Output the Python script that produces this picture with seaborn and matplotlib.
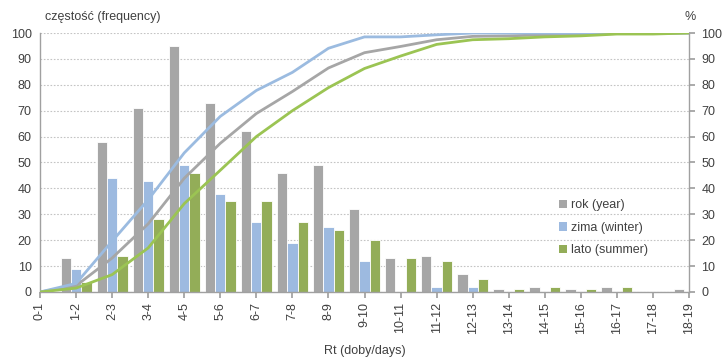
import numpy as np
import pandas as pd
import matplotlib
matplotlib.use("Agg")
import matplotlib.pyplot as plt
import seaborn as sns
from matplotlib.patches import Patch

sns.set_theme(style="white")
plt.rcParams["font.family"] = ["Liberation Sans", "DejaVu Sans"]

# Categories: Rt intervals in days
categories = ["0-1", "1-2", "2-3", "3-4", "4-5", "5-6", "6-7", "7-8", "8-9", "9-10",
              "10-11", "11-12", "12-13", "13-14", "14-15", "15-16", "16-17", "17-18", "18-19"]

# Frequencies
freq_year = [0, 13, 58, 71, 95, 73, 62, 46, 49, 32, 13, 14, 7, 1, 2, 1, 2, 0, 1]
freq_winter = [0, 9, 44, 43, 49, 38, 27, 19, 25, 12, 0, 2, 2, 0, 0, 0, 0, 0, 0]
freq_summer = [0, 4, 14, 28, 46, 35, 35, 27, 24, 20, 13, 12, 5, 1, 2, 1, 2, 0, 1]

# Cumulative share (%)
cum_year = [0, 2.4, 13.1, 26.3, 43.9, 57.4, 68.9, 77.4, 86.5, 92.4, 94.8, 97.4, 98.7,
            98.9, 99.3, 99.4, 99.8, 99.8, 100]
cum_winter = [0, 3.3, 19.6, 35.6, 53.7, 67.8, 77.8, 84.8, 94.1, 98.5, 98.5, 99.3, 100,
              100, 100, 100, 100, 100, 100]
cum_summer = [0, 1.5, 6.7, 17.0, 34.1, 47.0, 60.0, 70.0, 78.9, 86.3, 91.1, 95.6, 97.4,
              97.8, 98.5, 98.9, 99.6, 99.6, 100]

series_labels = ["rok (year)", "zima (winter)", "lato (summer)"]
bar_colors = ["#A6A6A6", "#9DBAE0", "#93AD58"]
line_colors = ["#A6A6A6", "#9BBBE0", "#9BC453"]

df = pd.DataFrame({
    "cat": categories * 3,
    "val": freq_year + freq_winter + freq_summer,
    "series": sum([[s] * len(categories) for s in series_labels], []),
})

text_color = "#404040"
axis_color = "#A0A0A0"
fs = 9

fig = plt.figure(figsize=(7.23, 3.58), dpi=100)
ax = fig.add_axes([0.0553, 0.1844, 0.8977, 0.7234])

sns.barplot(data=df, x="cat", y="val", hue="series", order=categories,
            hue_order=series_labels, palette=bar_colors, width=0.86,
            edgecolor="white", linewidth=0.6, saturation=1, legend=False, ax=ax, zorder=2)

ax.set_xlim(0, len(categories) - 1)
ax.set_ylim(0, 100)
ax.set_yticks(range(0, 101, 10))
ax.yaxis.grid(True, color="#C4C4C4", linestyle=(0, (1.5, 1.5)), linewidth=0.8, zorder=0)
ax.set_axisbelow(True)
ax.set_xlabel("Rt (doby/days)", fontsize=fs, color=text_color, labelpad=8)
ax.set_ylabel("")
ax.set_xticks(range(len(categories)))
ax.set_xticklabels(categories, rotation=90, fontsize=fs, color=text_color)
ax.tick_params(axis="y", labelsize=fs, colors=text_color, length=0, pad=6)
ax.tick_params(axis="x", length=4, color=axis_color, direction="out", pad=3)
ax.tick_params(axis="x", bottom=True)
for side in ["top", "right"]:
    ax.spines[side].set_visible(False)
for side in ["left", "bottom"]:
    ax.spines[side].set_color(axis_color)
    ax.spines[side].set_linewidth(1)

ax2 = ax.twinx()
x = np.arange(len(categories))
for vals, col in zip([cum_year, cum_winter, cum_summer], line_colors):
    sns.lineplot(x=x, y=vals, color=col, linewidth=2.0, ax=ax2, zorder=3)
ax2.set_ylim(0, 100)
ax2.set_xlim(0, len(categories) - 1)
ax2.set_yticks(range(0, 101, 10))
ax2.tick_params(axis="y", labelsize=fs, colors=text_color, length=4, pad=5)
ax2.tick_params(axis="y", color=axis_color)
for side in ["top", "left", "bottom"]:
    ax2.spines[side].set_visible(False)
ax2.spines["right"].set_color(axis_color)
ax2.spines["right"].set_linewidth(1)
ax2.set_ylabel("")

handles = [Patch(facecolor=c, edgecolor="none") for c in bar_colors]
fig.legend(handles, series_labels, loc="upper left", bbox_to_anchor=(0.758, 0.475),
           frameon=False, fontsize=fs, handlelength=0.65, handleheight=0.65,
           handletextpad=0.25, labelspacing=0.85, labelcolor=text_color)

fig.text(0.062, 0.952, "częstość (frequency)", fontsize=fs, color=text_color, va="center")
fig.text(0.955, 0.952, "%", fontsize=fs, color=text_color, va="center", ha="center")

fig.savefig("out.png", dpi=100)
